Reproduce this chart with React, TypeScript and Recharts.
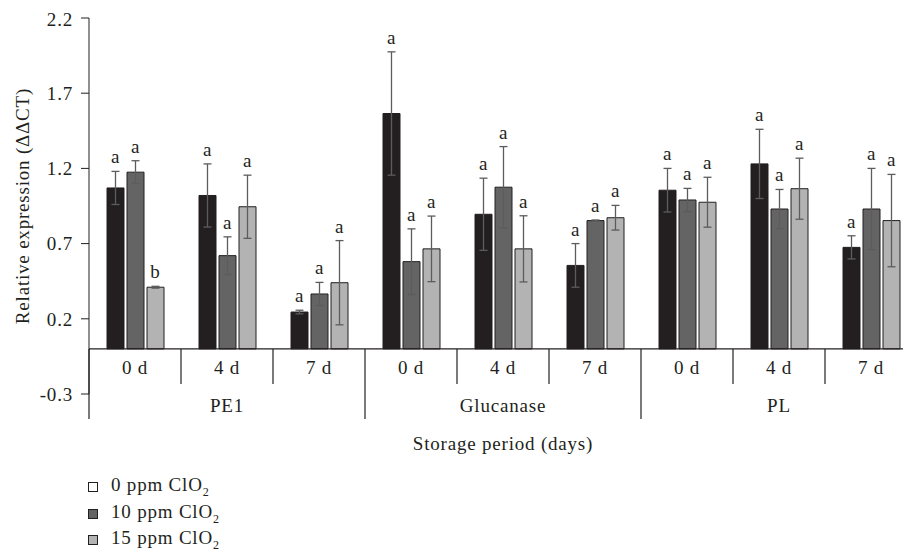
import React from 'react';
import { BarChart, Bar, XAxis, YAxis, ErrorBar, LabelList, ReferenceLine, Legend } from 'recharts';

// ---------- data ----------
const genes = ['PE1', 'Glucanase', 'PL'];
const days = ['0 d', '4 d', '7 d'];

const ppm0 = [1.07, 1.02, 0.245, 1.565, 0.895, 0.555, 1.055, 1.23, 0.675];
const err0 = [0.11, 0.21, 0.012, 0.41, 0.24, 0.145, 0.145, 0.23, 0.077];
const let0 = ['a', 'a', 'a', 'a', 'a', 'a', 'a', 'a', 'a'];

const ppm10 = [1.175, 0.62, 0.365, 0.58, 1.075, 0.853, 0.99, 0.93, 0.93];
const err10 = [0.076, 0.125, 0.077, 0.218, 0.27, 0.004, 0.077, 0.13, 0.27];
const let10 = ['a', 'a', 'a', 'a', 'a', 'a', 'a', 'a', 'a'];

const ppm15 = [0.41, 0.945, 0.44, 0.665, 0.665, 0.872, 0.975, 1.065, 0.853];
const err15 = [0.006, 0.21, 0.28, 0.218, 0.22, 0.082, 0.166, 0.203, 0.307];
const let15 = ['b', 'a', 'a', 'a', 'a', 'a', 'a', 'a', 'a'];

const yTicks = [-0.3, 0.2, 0.7, 1.2, 1.7, 2.2];
const seriesLabels = ['0 ppm ClO', '10 ppm ClO', '15 ppm ClO'];
const xTitle = 'Storage period (days)';
const yTitle = 'Relative expression (ΔΔCT)';

const data = genes.flatMap((g, gi) =>
  days.map((d, di) => {
    const i = gi * 3 + di;
    return {
      key: `${g}-${d}`,
      gene: g,
      day: d,
      v0: ppm0[i], e0: err0[i],
      v10: ppm10[i], e10: err10[i],
      v15: ppm15[i], e15: err15[i],
    };
  })
);

// ---------- layout ----------
const FONT = '"Liberation Serif", "Times New Roman", serif';
const TXT = '#231f20';
const FS = 19;
const LS = 0.8;
const W = 911;
const H = 541;
const M = { top: 10, right: 2, left: 0, bottom: 0 };
const YW = 81;
const XH = 75;
const LEG_H = 80;
const PLOT_W = W - M.left - M.right - YW;
const PLOT_H = H - M.top - M.bottom - XH - LEG_H;
const Y_MIN = yTicks[0];
const Y_MAX = yTicks[yTicks.length - 1];
const ZERO_OFF = (PLOT_H * (0 - Y_MIN)) / (Y_MAX - Y_MIN);

const colors = ['#231f20', '#646464', '#b3b3b3'];
const legendColors = ['#ffffff', '#646464', '#b3b3b3'];

const textStyle = { fontFamily: FONT, fontSize: FS, fill: TXT, letterSpacing: LS } as const;

const DayTick = (props: any) => {
  const { x, y, index } = props;
  const bw = PLOT_W / data.length;
  const yz = y - ZERO_OFF;
  const left = x - bw / 2;
  const row = data[index];
  return (
    <g>
      <text x={x} y={yz + 25} textAnchor="middle" style={textStyle}>{row.day}</text>
      <line x1={left} x2={left} y1={yz} y2={yz + (index % 3 === 0 ? 70 : 35)} stroke={TXT} strokeWidth={1.2} />
      {index % 3 === 1 && (
        <text x={x} y={yz + 63} textAnchor="middle" style={textStyle}>{row.gene}</text>
      )}
      {index === Math.floor(data.length / 2) && (
        <text x={x} y={yz + 101} textAnchor="middle" style={textStyle}>{xTitle}</text>
      )}
    </g>
  );
};

const makeLetter = (errs: number[], letters: string[]) => (props: any) => {
  const { x, y, width, height, value, index } = props;
  if (value == null || !height) return null;
  const k = height / value;
  const errTop = y - errs[index] * k;
  return (
    <text x={x + width / 2} y={errTop - 8} textAnchor="middle" style={textStyle}>
      {letters[index]}
    </text>
  );
};

const LegendContent = () => (
  <div style={{ height: LEG_H, boxSizing: 'border-box', paddingTop: 5, paddingLeft: 80, fontFamily: FONT, fontSize: FS, color: TXT, letterSpacing: LS }}>
    {seriesLabels.map((s, i) => (
      <div key={s} style={{ height: 26.5, display: 'flex', alignItems: 'center' }}>
        <span style={{ display: 'inline-block', width: 8, height: 8, background: legendColors[i], border: `1px solid ${TXT}`, marginRight: 13 }} />
        <span>
          {s}
          <sub style={{ fontSize: 12, verticalAlign: 'sub', letterSpacing: 0 }}>2</sub>
        </span>
      </div>
    ))}
  </div>
);

export default function App() {
  return (
    <div style={{ width: 903, height: 548, overflow: 'hidden' }}>
      <BarChart width={W} height={H} data={data} margin={M} barSize={17} barGap={3}>
        <XAxis
          dataKey="key"
          axisLine={false}
          tickLine={false}
          tickSize={0}
          tickMargin={0}
          interval={0}
          height={XH}
          tick={(p: any) => <DayTick {...p} />}
        />
        <YAxis
          width={YW}
          domain={[Y_MIN, Y_MAX]}
          ticks={yTicks}
          allowDataOverflow
          stroke={TXT}
          tickSize={8}
          tickMargin={8}
          tick={{ ...textStyle }}
          tickFormatter={(v: number) => v.toFixed(1)}
          label={{ value: yTitle, angle: -90, position: 'insideLeft', offset: 14, style: { ...textStyle, textAnchor: 'middle' } }}
        />
        <ReferenceLine y={0} stroke={TXT} strokeWidth={1.2} />
        <Legend verticalAlign="bottom" align="left" layout="horizontal" content={() => <LegendContent />} wrapperStyle={{ left: 0 }} />
        <Bar dataKey="v0" name={seriesLabels[0]} fill={colors[0]} stroke={TXT} strokeWidth={1} isAnimationActive={false}>
          <ErrorBar dataKey="e0" width={4} stroke="#5c5c5c" strokeWidth={1.3} direction="y" />
          <LabelList dataKey="v0" content={makeLetter(err0, let0)} />
        </Bar>
        <Bar dataKey="v10" name={seriesLabels[1]} fill={colors[1]} stroke={TXT} strokeWidth={1} isAnimationActive={false}>
          <ErrorBar dataKey="e10" width={4} stroke="#5c5c5c" strokeWidth={1.3} direction="y" />
          <LabelList dataKey="v10" content={makeLetter(err10, let10)} />
        </Bar>
        <Bar dataKey="v15" name={seriesLabels[2]} fill={colors[2]} stroke={TXT} strokeWidth={1} isAnimationActive={false}>
          <ErrorBar dataKey="e15" width={4} stroke="#5c5c5c" strokeWidth={1.3} direction="y" />
          <LabelList dataKey="v15" content={makeLetter(err15, let15)} />
        </Bar>
      </BarChart>
    </div>
  );
}
